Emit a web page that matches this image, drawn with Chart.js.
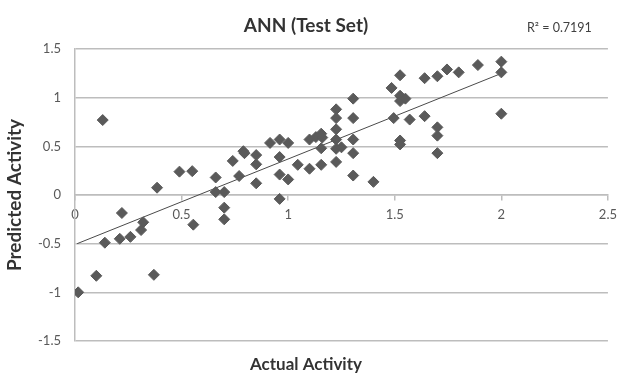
<!DOCTYPE html>
<html>
<head>
<meta charset="utf-8">
<script src="https://cdn.jsdelivr.net/npm/chart.js@4"></script>
<style>
  html, body { margin: 0; padding: 0; background: #fff; }
  #wrap { width: 624px; height: 375px; }
</style>
</head>
<body>
<div id="wrap"><canvas id="annChart"></canvas></div>
<script>
// Actual vs predicted activity (test set)
var actual = [0.015, 0.10, 0.13, 0.14, 0.22, 0.21, 0.26, 0.31, 0.32, 0.37,
  0.385, 0.49, 0.55, 0.555, 0.66, 0.66, 0.70, 0.70, 0.70, 0.74,
  0.77, 0.79, 0.795, 0.85, 0.85, 0.85, 0.915, 0.96, 0.96, 0.96,
  0.96, 1.0, 1.0, 1.045, 1.10, 1.10, 1.13, 1.16, 1.155, 1.155,
  1.155, 1.225, 1.225, 1.225, 1.225, 1.225, 1.225, 1.25, 1.305, 1.305,
  1.305, 1.305, 1.305, 1.40, 1.485, 1.495, 1.525, 1.525, 1.525, 1.525,
  1.525, 1.55, 1.57, 1.64, 1.64, 1.70, 1.70, 1.70, 1.70, 1.745,
  1.80, 1.89, 2.0, 2.0, 2.0];
var predicted = [-1.0, -0.83, 0.77, -0.49, -0.185, -0.45, -0.43, -0.36, -0.28, -0.82,
  0.075, 0.24, 0.245, -0.305, 0.18, 0.03, 0.03, -0.13, -0.25, 0.35,
  0.195, 0.45, 0.43, 0.41, 0.315, 0.12, 0.535, 0.57, 0.39, 0.21,
  -0.04, 0.535, 0.16, 0.31, 0.27, 0.57, 0.595, 0.59, 0.63, 0.48,
  0.31, 0.88, 0.79, 0.675, 0.57, 0.475, 0.34, 0.49, 0.99, 0.79,
  0.57, 0.43, 0.20, 0.135, 1.10, 0.79, 1.23, 1.02, 0.965, 0.56,
  0.52, 0.99, 0.775, 1.20, 0.81, 1.22, 0.695, 0.61, 0.43, 1.29,
  1.26, 1.335, 1.37, 1.26, 0.835];

// linear trend line (Excel style)
var trendSlope = 0.879;
var trendIntercept = -0.509;
var trendFrom = 0.01;
var trendTo = 2.0;
var rSquaredLabel = "R² = 0.7191";

// tick labels as Excel shows them
var xTickLabels = ['0', '0.5', '1', '1.5', '2', '2.5'];
var yTickLabels = ['-1.5', '-1', '-0.5', '0', '0.5', '1', '1.5'];

var points = actual.map(function (x, i) { return { x: x, y: predicted[i] }; });
var trend = [trendFrom, trendTo].map(function (x) {
  return { x: x, y: trendSlope * x + trendIntercept };
});

var fontFamily = "Lato, 'Open Sans', sans-serif";
var gridColor = '#bdbdbd';
var textColor = '#595959';

// R² note at the top right
var rSquaredNote = {
  id: 'rSquaredNote',
  afterDraw: function (chart) {
    var ctx = chart.ctx;
    ctx.save();
    ctx.font = "12.5px " + fontFamily;
    ctx.fillStyle = '#404040';
    ctx.textAlign = 'left';
    ctx.textBaseline = 'middle';
    ctx.fillText(rSquaredLabel, 527, 28);
    ctx.restore();
  }
};

new Chart(document.getElementById('annChart'), {
  type: 'scatter',
  data: {
    datasets: [{
      label: 'Predicted',
      data: points,
      pointStyle: 'rectRot',
      pointRadius: 5.5,
      pointHoverRadius: 5.5,
      backgroundColor: '#5a5a5a',
      borderColor: '#5a5a5a',
      borderWidth: 1
    }, {
      type: 'line',
      label: 'Linear',
      data: trend,
      borderColor: '#4a4a4a',
      borderWidth: 1,
      pointRadius: 0,
      fill: false
    }]
  },
  options: {
    responsive: true,
    maintainAspectRatio: false,
    animation: false,
    layout: { padding: { left: 0, right: 12, top: 0, bottom: 0 } },
    plugins: {
      legend: { display: false },
      tooltip: { enabled: false },
      title: {
        display: true,
        text: 'ANN (Test Set)',
        color: '#333',
        font: { family: fontFamily, size: 19, weight: 'bold' },
        padding: { top: 14.6, bottom: 11.6 }
      },
      subtitle: {
        display: true,
        position: 'bottom',
        text: 'Actual Activity',
        color: '#333',
        font: { family: fontFamily, size: 17, weight: 'bold' },
        padding: { top: 13.6, bottom: 0 }
      }
    },
    scales: {
      x: {
        type: 'linear',
        position: { y: 0 },
        min: 0,
        max: 2.5,
        ticks: {
          stepSize: 0.5,
          color: textColor,
          font: { family: fontFamily, size: 13 },
          padding: 7,
          callback: function (value, index) { return xTickLabels[index]; }
        },
        grid: {
          drawOnChartArea: false,
          drawTicks: true,
          tickLength: 5,
          color: gridColor,
          lineWidth: 1.5
        },
        border: { color: gridColor, width: 1.5 }
      },
      y: {
        type: 'linear',
        min: -1.5,
        max: 1.5,
        afterFit: function (scale) { scale.width = 75; },
        ticks: {
          stepSize: 0.5,
          color: textColor,
          font: { family: fontFamily, size: 13 },
          padding: 14,
          callback: function (value, index) { return yTickLabels[index]; }
        },
        grid: {
          drawTicks: false,
          color: gridColor,
          lineWidth: 1.5
        },
        border: { color: gridColor, width: 1.5 },
        title: {
          display: true,
          text: 'Predicted Activity',
          color: '#333',
          font: { family: fontFamily, size: 19, weight: 'bold' },
          padding: { top: 3.6, bottom: 0 }
        }
      }
    }
  },
  plugins: [rSquaredNote]
});
</script>
</body>
</html>
